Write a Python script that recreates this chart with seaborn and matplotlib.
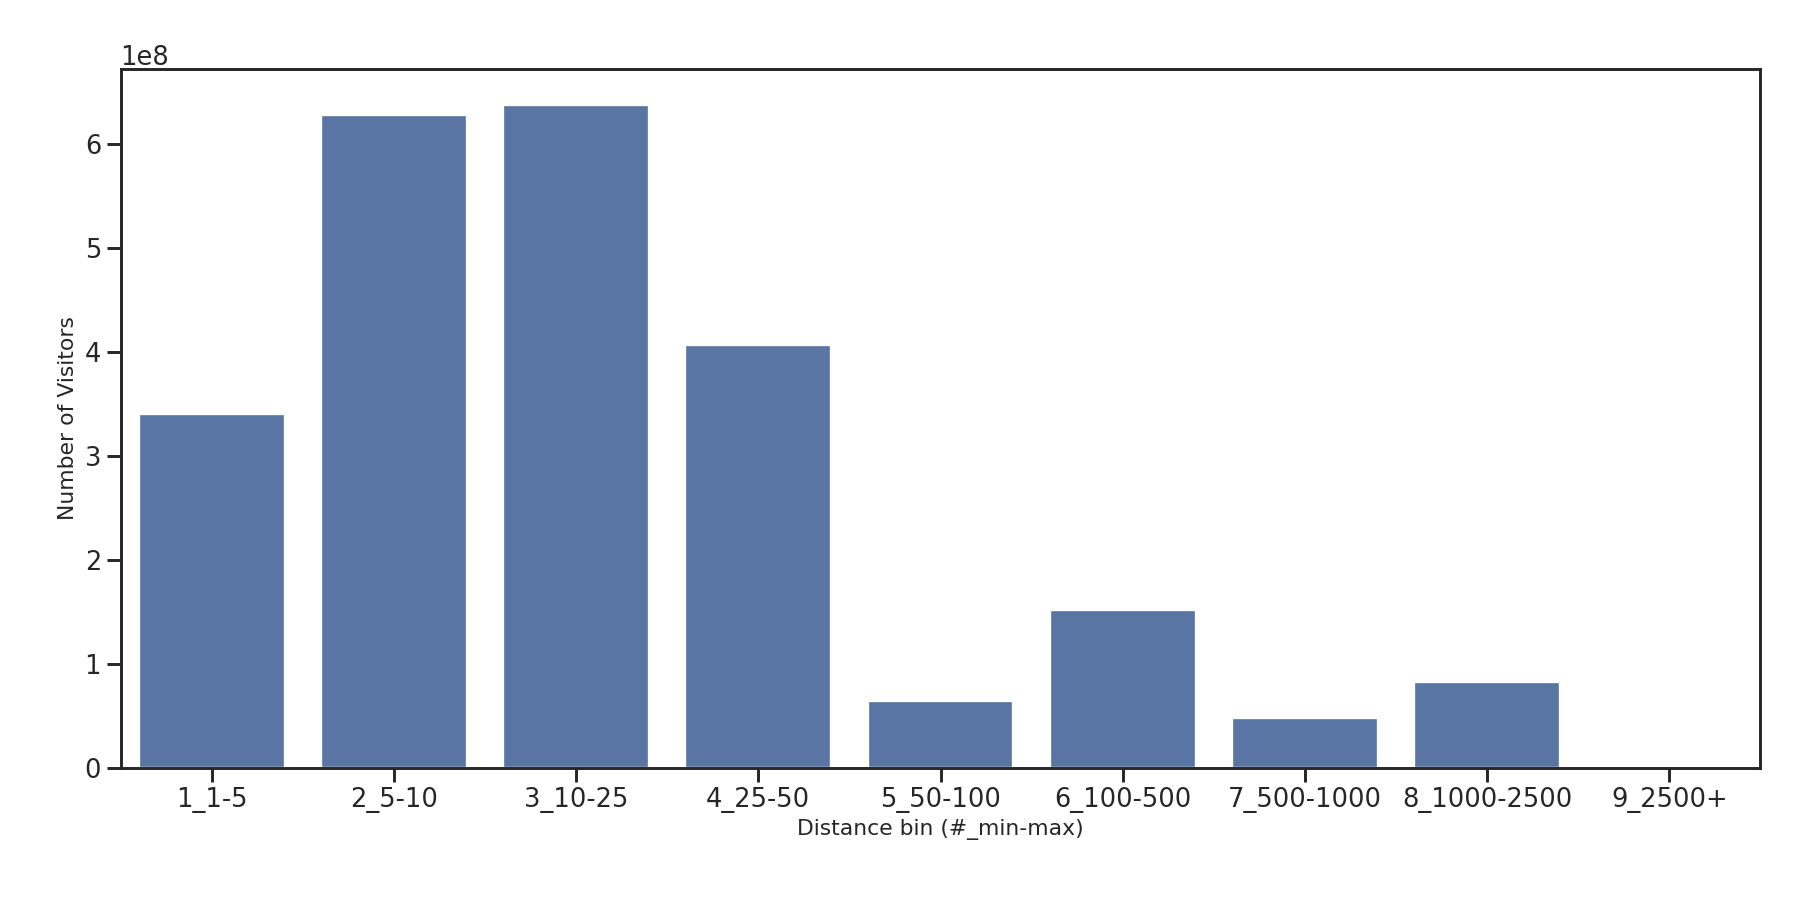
import matplotlib
matplotlib.use("Agg")
import matplotlib.pyplot as plt
import seaborn as sns
import pandas as pd

# Distance bins and visitor counts
bins = ["1_1-5", "2_5-10", "3_10-25", "4_25-50", "5_50-100",
        "6_100-500", "7_500-1000", "8_1000-2500", "9_2500+"]
visitors = [3.40e8, 6.28e8, 6.38e8, 4.07e8, 0.64e8, 1.52e8, 0.48e8, 0.82e8, 0.02e8]

df = pd.DataFrame({"bin": bins, "visitors": visitors})

sns.set_theme(style="ticks", context="talk")
fig, ax = plt.subplots(figsize=(16, 8), dpi=112.5)
sns.barplot(data=df, x="bin", y="visitors", color="#4c72b0", ax=ax)
ax.set_xlabel("Distance bin (#_min-max)", fontsize=14)
ax.set_ylabel("Number of Visitors", fontsize=14)
ax.set_ylim(0, 6.72e8)
fig.subplots_adjust(left=0.067, right=0.978, top=0.923, bottom=0.147)
fig.savefig("out.png", dpi=112.5)
